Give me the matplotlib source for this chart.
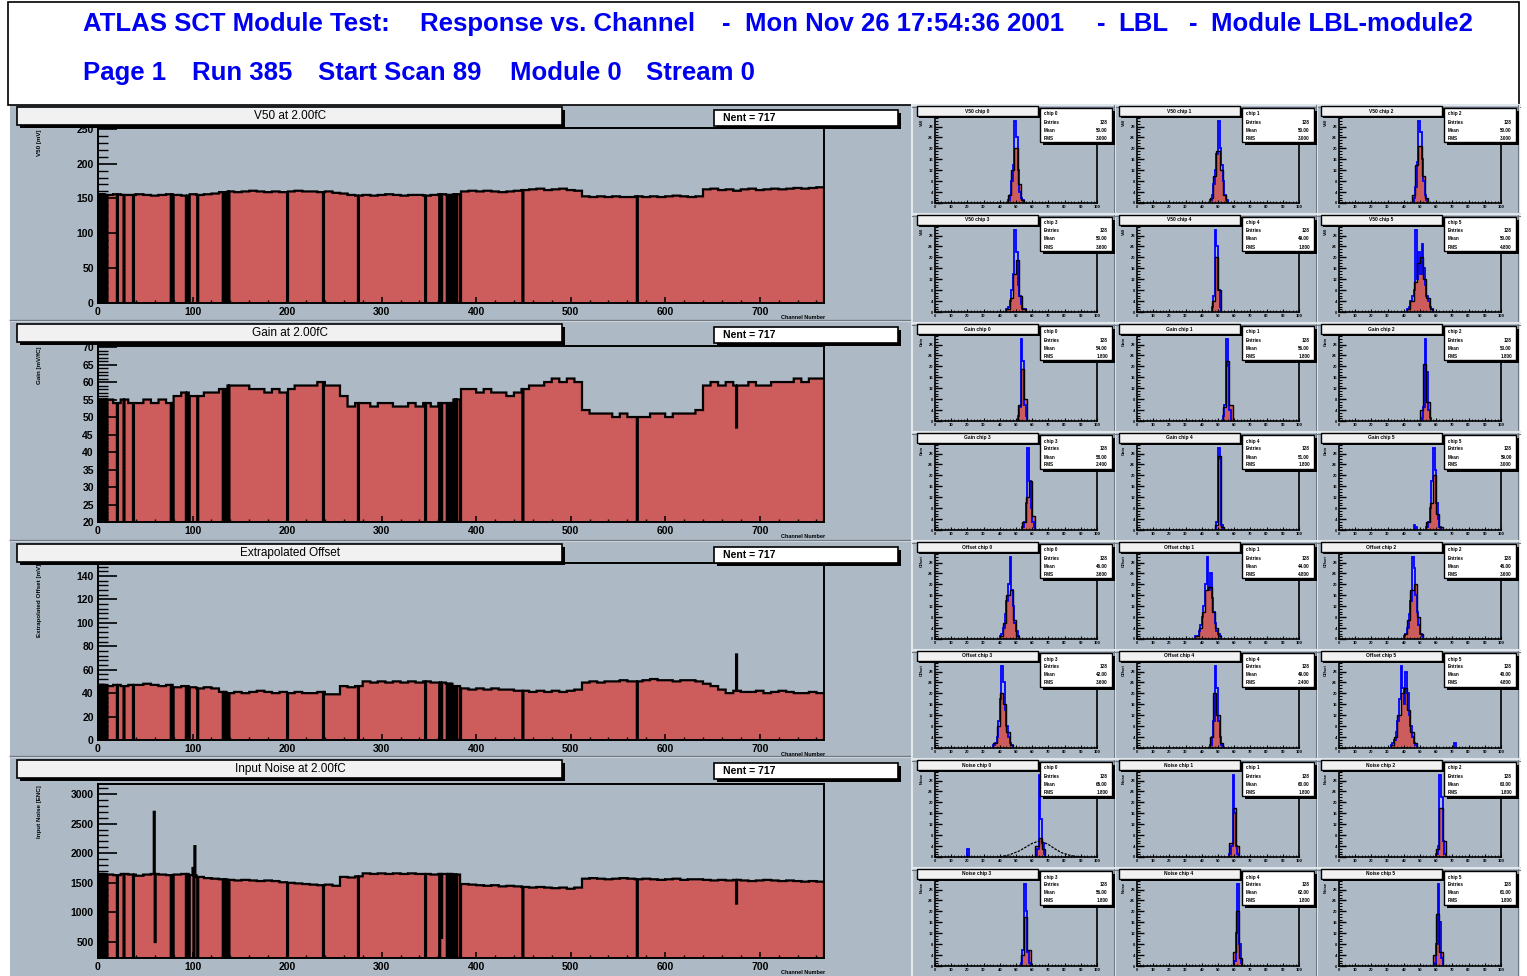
import numpy as np
import matplotlib
matplotlib.use('Agg')
import matplotlib.pyplot as plt
from matplotlib.patches import Rectangle
from matplotlib.lines import Line2D

# ---- data ----------------------------------------------------------------
# response vs channel, one value per 8 channels (6 chips x 16 groups)
v50_levels = [
    156, 155, 156, 155, 155, 156, 155, 154, 155, 156, 155, 154, 156, 155, 156, 157,
    159, 160, 159, 160, 161, 160, 159, 160, 159, 160, 161, 160, 160, 159, 160, 158,
    157, 155, 154, 155, 154, 155, 156, 155, 154, 155, 155, 154, 155, 156, 155, 156,
    160, 161, 160, 161, 160, 159, 160, 161, 162, 163, 164, 162, 163, 164, 162, 161,
    153, 152, 153, 152, 153, 152, 152, 153, 152, 153, 152, 153, 154, 153, 152, 153,
    163, 164, 162, 163, 161, 163, 164, 162, 163, 164, 163, 164, 165, 164, 165, 166,
]
gain_levels = [
    55, 55, 54, 55, 54, 54, 55, 54, 55, 54, 56, 57, 56, 56, 57, 57,
    58, 59, 59, 59, 58, 58, 57, 58, 57, 58, 59, 59, 59, 60, 59, 59,
    56, 53, 54, 54, 53, 54, 54, 53, 53, 54, 53, 54, 53, 54, 54, 55,
    58, 58, 57, 58, 57, 57, 56, 57, 58, 59, 59, 60, 61, 60, 61, 60,
    52, 51, 51, 51, 50, 51, 50, 50, 50, 51, 51, 50, 51, 51, 51, 52,
    59, 60, 59, 60, 59, 59, 60, 59, 59, 60, 60, 60, 61, 60, 61, 61,
]
offset_levels = [
    47, 46, 47, 46, 47, 47, 48, 47, 46, 47, 45, 46, 45, 44, 45, 44,
    41, 40, 41, 40, 41, 42, 41, 40, 41, 40, 41, 40, 40, 41, 39, 39,
    46, 45, 46, 50, 49, 50, 49, 50, 49, 50, 49, 50, 49, 49, 48, 46,
    44, 43, 44, 43, 44, 43, 43, 42, 42, 41, 42, 41, 42, 41, 42, 43,
    49, 50, 49, 50, 50, 51, 50, 50, 51, 52, 51, 51, 50, 51, 51, 50,
    48, 46, 43, 40, 42, 41, 41, 42, 40, 41, 42, 41, 40, 40, 41, 40,
]
noise_levels = [
    1650, 1640, 1630, 1650, 1640, 1620, 1640, 1650, 1640, 1630, 1640, 1650, 1630, 1600, 1580, 1570,
    1560, 1550, 1540, 1550, 1540, 1530, 1540, 1530, 1510, 1500, 1490, 1480, 1470, 1460, 1470, 1450,
    1600, 1590, 1610, 1660, 1650, 1660, 1650, 1660, 1650, 1660, 1650, 1650, 1640, 1650, 1650, 1640,
    1480, 1470, 1460, 1450, 1460, 1440, 1450, 1440, 1430, 1420, 1430, 1420, 1410, 1420, 1400, 1420,
    1570, 1580, 1570, 1560, 1570, 1580, 1570, 1560, 1570, 1560, 1550, 1560, 1570, 1550, 1560, 1560,
    1550, 1540, 1550, 1540, 1550, 1540, 1530, 1540, 1550, 1540, 1530, 1540, 1530, 1520, 1530, 1520,
]
dead_channels = [1, 3, 5, 7, 9, 20, 27, 37, 77, 79, 93, 96, 105, 132, 134, 136, 138,
                 200, 238, 275, 346, 361, 363, 369, 371, 373, 375, 377, 379, 383, 449, 570]
# (channel, value) single-channel outliers
v50_special = []
gain_special = [(675, 47)]
offset_special = [(675, 73)]
noise_special = [(59, 2700), (60, 500), (100, 1750), (101, 0), (102, 2120), (363, 570), (675, 1150)]

panel_titles = ["V50 at 2.00fC", "Gain at 2.00fC", "Extrapolated Offset", "Input Noise at 2.00fC"]
panel_ytitles = ["V50 [mV]", "Gain [mV/fC]", "Extrapolated Offset [mV]", "Input Noise [ENC]"]
panel_ylims = [(0, 251), (20, 70.3), (0, 151), (230, 3170)]
panel_nent = [717, 717, 717, 717]

# per-chip distributions (rows: V50 x2, Gain x2, Offset x2, Noise x2; 3 chips per row)
quantities = ["V50", "V50", "Gain", "Gain", "Offset", "Offset", "Noise", "Noise"]
small_red_start = [45, 45, 45, 44, 46, 42, 51, 53, 50, 54, 48, 54,
                   40, 36, 40, 36, 45, 32, 62, 57, 60, 53, 59, 58]
small_red = [
    [3, 12, 20, 7, 1], [2, 10, 19, 12, 3], [3, 14, 21, 10, 2],
    [1, 5, 14, 19, 6, 1], [4, 20, 8], [1, 4, 11, 18, 20, 12, 5, 1],
    [6, 19, 8], [5, 22, 6], [4, 21, 7],
    [3, 12, 18, 5], [2, 27, 1], [3, 10, 20, 6, 1],
    [1, 6, 16, 18, 7, 1], [1, 4, 10, 18, 19, 10, 4, 1], [2, 7, 18, 20, 8, 2],
    [2, 8, 20, 16, 6, 1], [4, 20, 12, 2], [1, 4, 12, 20, 22, 14, 6, 2],
    [4, 7, 3], [5, 18, 4], [3, 18, 6],
    [4, 18, 6], [5, 20, 3], [4, 19, 5],
]
small_blue_start = [45, 45, 46, 44, 46, 42, 51, 53, 51, 54, 49, 54,
                    40, 36, 40, 36, 45, 32, 63, 57, 60, 53, 60, 59]
small_blue = [
    [1, 3, 8, 14, 30, 24, 12, 4, 2, 1], [1, 3, 7, 12, 18, 30, 20, 14, 8, 3, 1], [2, 6, 15, 30, 26, 16, 8, 3, 1],
    [1, 2, 4, 8, 14, 30, 22, 10, 6, 3, 1, 1], [2, 6, 30, 24, 8, 2], [1, 2, 4, 6, 8, 30, 12, 22, 14, 25, 16, 10, 6, 4, 2, 1],
    [2, 5, 30, 22, 6, 2], [2, 6, 30, 20, 4], [1, 5, 30, 18, 4, 1],
    [1, 3, 10, 30, 18, 8, 3, 1], [3, 30, 26, 2], [1, 3, 8, 18, 30, 22, 10, 4, 1],
    [1, 2, 4, 9, 14, 20, 30, 18, 12, 6, 3, 1], [1, 1, 3, 5, 8, 12, 20, 30, 18, 24, 15, 10, 6, 3, 2, 1], [1, 2, 4, 9, 14, 30, 26, 16, 10, 5, 2, 1],
    [1, 2, 4, 10, 18, 30, 24, 14, 8, 4, 2, 1], [1, 4, 10, 30, 22, 10, 4, 1], [1, 2, 3, 6, 10, 18, 30, 22, 16, 28, 20, 12, 8, 4, 2, 1],
    [3, 30, 14, 5, 1], [1, 4, 30, 16, 4, 1], [1, 4, 30, 22, 6, 1],
    [1, 6, 30, 20, 5, 1], [2, 12, 30, 8, 1], [1, 8, 30, 16, 3],
]
# (panel, bin, count) isolated blue entries
small_blue_extra = [(11, 46, 2), (11, 47, 1), (17, 71, 2), (18, 20, 3)]
# fit curve drawn in the first noise panel
fit_x = [40, 46, 52, 56, 60, 64, 66, 70, 74, 78, 84, 90]
fit_y = [0, 0.8, 2.2, 3.6, 5.0, 5.8, 5.6, 4.6, 3.0, 1.6, 0.5, 0]
small_entries = [128, 128, 128, 128, 128, 128]

RED = '#cd5c5c'
PADBG = '#adbac6'
BLUE = '#0000f0'

W, H = 1527, 976
DPI = 100
plt.rcParams['font.family'] = ['Liberation Sans', 'DejaVu Sans']

fig = plt.figure(figsize=(W / DPI, H / DPI), dpi=DPI, facecolor='white')


def frac(x0, y0, x1, y1):
    return [x0 / W, 1 - y1 / H, (x1 - x0) / W, (y1 - y0) / H]


def rect(x0, y0, x1, y1, fc, ec='none', lw=0, z=1):
    fig.patches.append(Rectangle((x0 / W, 1 - y1 / H), (x1 - x0) / W, (y1 - y0) / H,
                                 transform=fig.transFigure, fc=fc, ec=ec, lw=lw, zorder=z))


def pave(x0, y0, x1, y1, fc='white', sh=3, lw=1.2, z=5):
    rect(x0 + sh, y0 + sh, x1 + sh, y1 + sh, 'black', z=z)
    rect(x0, y0, x1, y1, fc, 'black', lw, z=z + 0.1)


def hline(x0, x1, y, color, lw=1.0, z=0.5):
    fig.lines.append(Line2D([x0 / W, x1 / W], [1 - y / H, 1 - y / H], transform=fig.transFigure,
                            color=color, lw=lw, zorder=z))


def vline(x, y0, y1, color, lw=1.0, z=0.5):
    fig.lines.append(Line2D([x / W, x / W], [1 - y0 / H, 1 - y1 / H], transform=fig.transFigure,
                            color=color, lw=lw, zorder=z))


def ftext(x, y, s, **kw):
    kw.setdefault('zorder', 7)
    fig.text(x / W, 1 - y / H, s, **kw)


# canvas background and header
rect(10, 105, 1520, 976, PADBG, z=-2)
rect(8, 2, 1519, 105, 'white', 'black', 1.2, z=-1)

head1 = [(83, "ATLAS SCT Module Test:"), (420, "Response vs. Channel"), (722, "-"),
         (745, "Mon Nov 26 17:54:36 2001"), (1097, "-"), (1118, "LBL"), (1189, "-"),
         (1211, "Module LBL-module2")]
head2 = [(83, "Page 1"), (192, "Run 385"), (318, "Start Scan 89"), (510, "Module 0"), (646, "Stream 0")]
for x, s in head1:
    ftext(x, 31, s, color=BLUE, fontsize=18.5, fontweight='bold', va='baseline')
for x, s in head2:
    ftext(x, 80, s, color=BLUE, fontsize=18.5, fontweight='bold', va='baseline')

# ---- left column: response vs channel -------------------------------------
levels = [v50_levels, gain_levels, offset_levels, noise_levels]
specials = [v50_special, gain_special, offset_special, noise_special]
pad_tops = [105, 322, 542, 758]
frames = [(128, 303), (346, 522), (563, 740), (784, 958)]
ymajor = [50, 5, 20, 500]
yminor = [10, 1, 4, 100]
edges = np.arange(769)

for i in range(4):
    top = pad_tops[i]
    if i > 0:
        hline(10, 912, top - 1, '#e2e7eb', 1.5)
        hline(10, 912, top - 2.5, '#6f7a84', 1.0)
    ft, fb = frames[i]
    ax = fig.add_axes(frac(98, ft, 824, fb))
    ax.set_facecolor('none')
    vals = np.repeat(np.array(levels[i], dtype=float), 8)
    vals[dead_channels] = 0
    for ch, v in specials[i]:
        vals[ch] = v
    ax.stairs(vals, edges, fill=True, color=RED, baseline=0, lw=0)
    ax.stairs(vals, edges, color='black', lw=1.6, baseline=0)
    ax.set_xlim(0, 768)
    ax.set_ylim(*panel_ylims[i])
    ax.set_xticks(range(0, 701, 100))
    ax.set_xticklabels([str(v) for v in range(0, 701, 100)], fontsize=7.5, fontweight='bold')
    ax.set_xticks(range(0, 769, 20), minor=True)
    lo, hi = panel_ylims[i]
    yt = np.arange(np.ceil(lo / ymajor[i]) * ymajor[i], hi + 0.01, ymajor[i])
    ax.set_yticks(yt)
    ax.set_yticklabels([str(int(v)) for v in yt], fontsize=7.5, fontweight='bold')
    ax.set_yticks(np.arange(np.ceil(lo / yminor[i]) * yminor[i], hi, yminor[i]), minor=True)
    ax.tick_params(axis='x', which='major', direction='in', length=4.5, width=1.1, pad=3)
    ax.tick_params(axis='x', which='minor', direction='in', length=2.2, width=1.0)
    ax.tick_params(axis='y', which='major', direction='in', length=14, width=1.2, pad=3)
    ax.tick_params(axis='y', which='minor', direction='in', length=7, width=1.0)
    for sp in ax.spines.values():
        sp.set_linewidth(1.4)
    # title and stats paves
    pave(17, top + 2, 562, top + 20, fc='#f1f1f1')
    ftext(290, top + 11, panel_titles[i], fontsize=8.5, ha='center', va='center')
    pave(714, top + 5, 898, top + 21)
    ftext(723, top + 13, "Nent = %d" % panel_nent[i], fontsize=7.5, fontweight='bold', va='center')
    ftext(40, ft + 1, panel_ytitles[i], fontsize=4.5, fontweight='bold', rotation=90, ha='center', va='top')
    ftext(825, fb + 14, "Channel Number", fontsize=4, fontweight='bold', ha='right', va='center')

# ---- right block: per-chip distributions ------------------------------------
col_x = [913, 1115, 1317]
row_pitch = 109
vline(912, 105, 976, '#e2e7eb', 1.5)
for r in range(8):
    py = 105 + r * row_pitch
    hline(912, 1520, py, '#e2e7eb', 1.5)
    hline(912, 1520, py + 1.5, '#6f7a84', 0.8)
    for c in range(3):
        k = r * 3 + c
        px = col_x[c]
        if r == 0:
            vline(px + 202, 105, 976, '#e2e7eb', 1.5)
            vline(px + 200.5, 105, 976, '#6f7a84', 0.8)
        ax = fig.add_axes(frac(px + 22, py + 12, px + 184, py + 98))
        ax.set_facecolor('none')
        rs = small_red_start[k]
        red = small_red[k]
        redges = rs + 2 * np.arange(len(red) + 1)
        bs = small_blue_start[k]
        blue = np.array(small_blue[k], dtype=float)
        bedges = bs + np.arange(len(blue) + 1)
        ax.stairs(red, redges, fill=True, color=RED, lw=0)
        ax.stairs(blue, bedges, color='blue', lw=1.3)
        ax.stairs(red, redges, color='black', lw=1.0)
        for kk, b, n in small_blue_extra:
            if kk == k:
                ax.stairs([n], [b, b + 1], color='blue', lw=1.3)
        if k == 18:
            ax.plot(fit_x, fit_y, color='black', lw=0.9, ls=(0, (2, 1)))
        ymax = max(small_blue[k]) * 1.05
        ax.set_xlim(0, 100)
        ax.set_ylim(0, ymax)
        ax.set_xticks(range(0, 101, 10))
        ax.set_xticks(range(0, 101, 2), minor=True)
        ax.set_xticklabels([str(v) for v in range(0, 101, 10)], fontsize=3, fontweight='bold')
        yt = list(range(0, int(ymax) + 1, 4))
        ax.set_yticks(yt)
        ax.set_yticklabels([str(v) for v in yt], fontsize=3, fontweight='bold')
        ax.set_yticks(range(0, int(ymax) + 1, 1), minor=True)
        ax.tick_params(axis='x', which='major', direction='in', length=2.5, width=0.8, pad=1.5)
        ax.tick_params(axis='x', which='minor', direction='in', length=1.2, width=0.6)
        ax.tick_params(axis='y', which='major', direction='in', length=5, width=1.0, pad=1.5)
        ax.tick_params(axis='y', which='minor', direction='in', length=2.5, width=0.8)
        for sp in ax.spines.values():
            sp.set_linewidth(1.2)
        name = "%s chip %d" % (quantities[r], (r % 2) * 3 + c)
        pave(px + 4, py + 1, px + 125, py + 11, fc='#f1f1f1', sh=2, lw=1.0)
        ftext(px + 64, py + 6, name, fontsize=3.5, fontweight='bold', ha='center', va='center')
        pave(px + 127, py + 3, px + 199, py + 37, sh=3, lw=1.0)
        vals = np.repeat(np.arange(len(red)), 1)
        ftext(px + 131, py + 9, "chip %d" % ((r % 2) * 3 + c), fontsize=3.3, fontweight='bold', va='center')
        ftext(px + 131, py + 17, "Entries", fontsize=3.3, fontweight='bold', va='center')
        ftext(px + 195, py + 17, "%d" % small_entries[(r % 2) * 3 + c], fontsize=3.3, fontweight='bold', va='center', ha='right')
        ftext(px + 131, py + 25, "Mean", fontsize=3.3, fontweight='bold', va='center')
        ftext(px + 195, py + 25, "%.2f" % (rs + len(red)), fontsize=3.3, fontweight='bold', va='center', ha='right')
        ftext(px + 131, py + 33, "RMS", fontsize=3.3, fontweight='bold', va='center')
        ftext(px + 195, py + 33, "%.3f" % (len(red) * 0.6), fontsize=3.3, fontweight='bold', va='center', ha='right')
        ftext(px + 9, py + 14, quantities[r], fontsize=3, fontweight='bold', rotation=90, ha='center', va='top')

fig.savefig('out.png', dpi=DPI, facecolor='white')
